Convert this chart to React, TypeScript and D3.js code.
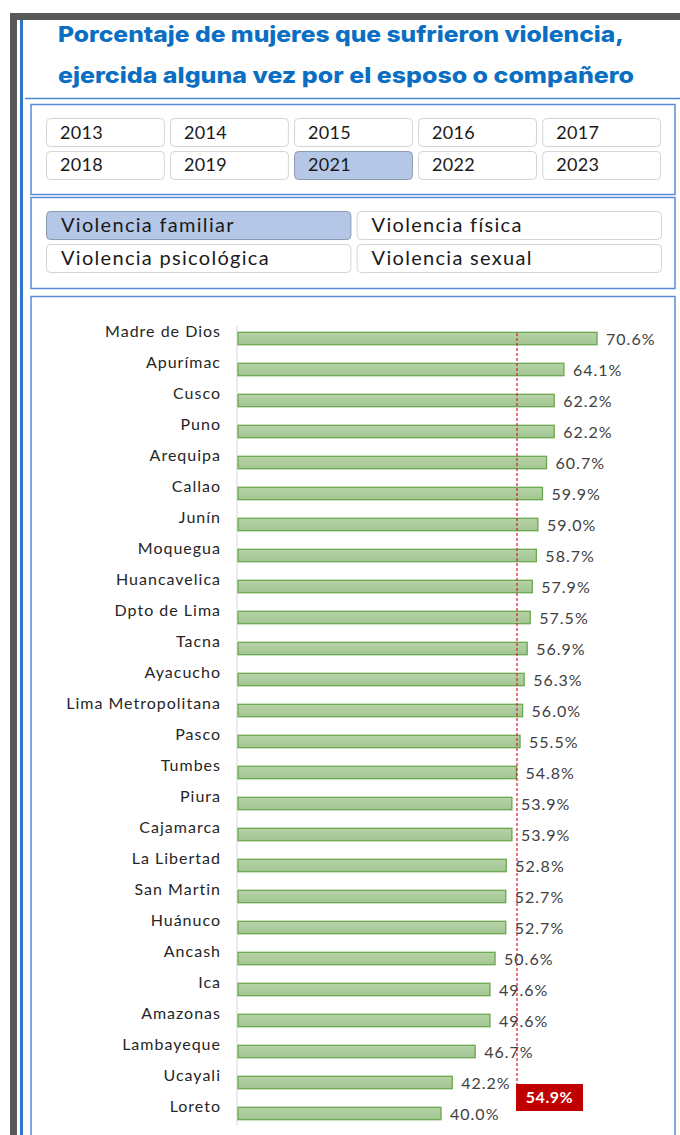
import React from "react";
import * as d3 from "d3";

const categories = [
  "Madre de Dios", "Apurímac", "Cusco", "Puno", "Arequipa", "Callao", "Junín",
  "Moquegua", "Huancavelica", "Dpto de Lima", "Tacna", "Ayacucho",
  "Lima Metropolitana", "Pasco", "Tumbes", "Piura", "Cajamarca", "La Libertad",
  "San Martin", "Huánuco", "Ancash", "Ica", "Amazonas", "Lambayeque", "Ucayali", "Loreto",
];
const values = [
  70.6, 64.1, 62.2, 62.2, 60.7, 59.9, 59.0, 58.7, 57.9, 57.5, 56.9, 56.3, 56.0,
  55.5, 54.8, 53.9, 53.9, 52.8, 52.7, 52.7, 50.6, 49.6, 49.6, 46.7, 42.2, 40.0,
];
const national = 54.9;
const years = ["2013", "2014", "2015", "2016", "2017", "2018", "2019", "2021", "2022", "2023"];
const selectedYear = "2021";
const types = ["Violencia familiar", "Violencia física", "Violencia psicológica", "Violencia sexual"];
const selectedType = "Violencia familiar";
const titleLines = [
  "Porcentaje de mujeres que sufrieron violencia,",
  "ejercida alguna vez por el esposo o compañero",
];

const W = 680;
const H = 1135;

export default function App() {
  const x = d3.scaleLinear().domain([0, 80]).range([237, 645]);
  const y = d3.scaleBand<string>().domain(categories).range([323, 1129]).paddingInner(0.6).paddingOuter(0.3);
  const bh = y.bandwidth();

  const yearCol = d3.scaleBand<number>().domain([0, 1, 2, 3, 4]).range([46, 660]).paddingInner(0.05);
  const yearRow = d3.scaleBand<number>().domain([0, 1]).range([118, 179]).paddingInner(0.15);
  const typeCol = d3.scaleBand<number>().domain([0, 1]).range([46, 661]).paddingInner(0.02);
  const typeRow = d3.scaleBand<number>().domain([0, 1]).range([211, 272]).paddingInner(0.15);

  const font = "Lato, 'Open Sans', sans-serif";

  return (
    <div style={{ position: "absolute", left: 0, top: 0 }}>
      <svg width={W} height={H} viewBox={`0 0 ${W} ${H}`} style={{ display: "block" }}>
        <defs>
          <linearGradient id="barGrad" x1="0" y1="0" x2="0" y2="1">
            <stop offset="0%" stopColor="#b7d3a8" />
            <stop offset="100%" stopColor="#a2c591" />
          </linearGradient>
        </defs>
        <rect x={0} y={0} width={W} height={H} fill="#ffffff" />
        {/* dark frame */}
        <rect x={10} y={13} width={W - 10} height={7} fill="#595959" />
        <rect x={10} y={13} width={7} height={H - 13} fill="#595959" />
        {/* blue vertical line */}
        <rect x={20} y={20} width={3} height={H - 20} fill="#2e75c6" />
        {/* title */}
        {titleLines.map((t, i) => (
          <text key={i} x={58} y={42 + i * 41} fill="#0a6fc2" fontFamily="Inter, 'Open Sans', sans-serif"
            fontWeight={800} fontSize={22} textLength={i === 0 ? 566 : 576} lengthAdjust="spacingAndGlyphs">
            {t}
          </text>
        ))}
        <line x1={25} x2={W} y1={98.5} y2={98.5} stroke="#4a86d0" strokeWidth={1.5} />
        {/* panel boxes */}
        <rect x={31} y={104.5} width={644} height={90} fill="none" stroke="#5b8ad6" strokeWidth={1.5} />
        <rect x={31} y={197.5} width={644} height={91} fill="none" stroke="#5b8ad6" strokeWidth={1.5} />
        <rect x={31} y={296.5} width={644} height={H} fill="none" stroke="#5b8ad6" strokeWidth={1.5} />
        {/* year buttons */}
        {years.map((yr, i) => {
          const c = i % 5;
          const r = Math.floor(i / 5);
          const sel = yr === selectedYear;
          return (
            <g key={yr}>
              <rect x={yearCol(c)! + 0.5} y={yearRow(r)! + 0.5} width={yearCol.bandwidth()} height={yearRow.bandwidth()}
                rx={4} fill={sel ? "#b4c7e7" : "#ffffff"} stroke={sel ? "#8c9ab0" : "#d4d4d4"} strokeWidth={1} />
              <text x={yearCol(c)! + 14} y={yearRow(r)! + yearRow.bandwidth() / 2 + 6.5} fontFamily={font}
                fontSize={18} letterSpacing={0.3} fill="#1a1a1a">{yr}</text>
            </g>
          );
        })}
        {/* type buttons */}
        {types.map((tp, i) => {
          const c = i % 2;
          const r = Math.floor(i / 2);
          const sel = tp === selectedType;
          return (
            <g key={tp}>
              <rect x={typeCol(c)! + 0.5} y={typeRow(r)! + 0.5} width={typeCol.bandwidth()} height={typeRow.bandwidth()}
                rx={4} fill={sel ? "#b4c7e7" : "#ffffff"} stroke={sel ? "#8c9ab0" : "#d4d4d4"} strokeWidth={1} />
              <text x={typeCol(c)! + 15} y={typeRow(r)! + typeRow.bandwidth() / 2 + 7} fontFamily={font}
                fontSize={20} letterSpacing={1.3} fill="#1a1a1a">{tp}</text>
            </g>
          );
        })}
        {/* axis line */}
        <line x1={x(0)} x2={x(0)} y1={326} y2={1126} stroke="#d9d9d9" strokeWidth={1} />
        {/* bars */}
        {categories.map((c, i) => {
          const yy = y(c)!;
          return (
            <g key={c}>
              <rect x={x(0) + 1} y={yy} width={x(values[i]) - x(0) - 1} height={bh}
                fill="url(#barGrad)" stroke="#6aa84f" strokeWidth={1.3} />
              <text x={221} y={yy + bh / 2 - 2} textAnchor="end" fontFamily={font} fontSize={16}
                letterSpacing={1} fill="#262626">{c}</text>
              <text x={x(values[i]) + 9} y={yy + bh / 2 + 6} fontFamily={font} fontSize={16}
                letterSpacing={1} fill="#404040">
                {values[i].toFixed(1)}%
              </text>
            </g>
          );
        })}
        {/* national reference line */}
        <line x1={x(national)} x2={x(national)} y1={333} y2={1085} stroke="#d0202a" strokeWidth={1.2} strokeDasharray="3,2" />
        <rect x={x(national) - 1} y={1084} width={67} height={27} fill="#c00000" />
        <text x={x(national) + 32.5} y={1103} textAnchor="middle" fontFamily={font} fontWeight={700} fontSize={16}
          letterSpacing={0.5} fill="#ffffff">
          {national.toFixed(1)}%
        </text>
      </svg>
    </div>
  );
}
